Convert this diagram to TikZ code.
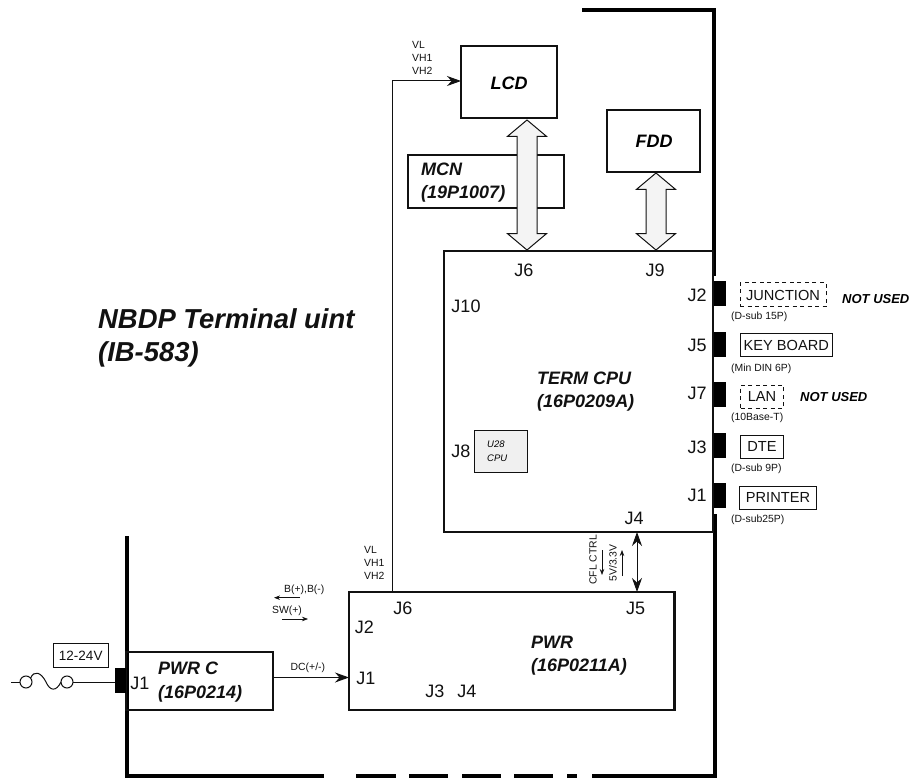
\documentclass[tikz,border=0pt]{standalone}
\usepackage{fontspec}
\setmainfont{Liberation Sans}
\usepackage{xcolor}
\usetikzlibrary{shapes.arrows,arrows.meta,positioning,calc}
\definecolor{fuink}{HTML}{111111}
\definecolor{fubus}{HTML}{F4F4F4}
\definecolor{fuchip}{HTML}{F0F0F0}
\newcommand{\busgap}{\rule{0pt}{19pt}}
\tikzset{
  unitbox/.style={rectangle,draw=fuink,line width=2.6pt,anchor=north west,inner sep=0pt,outer sep=0pt},
  portbox/.style={rectangle,draw=fuink,line width=1pt,anchor=north west,inner sep=0pt,outer sep=0pt,
                  font=\fontsize{14.6}{17}\selectfont,text=fuink},
  nousebox/.style={portbox,dashed,dash pattern=on 4pt off 3.5pt},
  plug/.style={rectangle,fill=black,anchor=north west,minimum width=12pt,minimum height=25pt,inner sep=0pt,outer sep=0pt},
  title/.style={anchor=west,align=left,inner sep=0pt,font=\fontsize{18}{23.5}\selectfont\bfseries\itshape,text=fuink},
  pin/.style={inner sep=0pt,font=\fontsize{18}{20}\selectfont,text=fuink},
  tiny/.style={anchor=west,align=left,inner sep=0pt,font=\fontsize{10.4}{12.8}\selectfont,text=fuink},
  notuse/.style={anchor=west,inner sep=0pt,font=\fontsize{13}{15}\selectfont\bfseries\itshape,text=black},
  bus/.style={double arrow,draw=fuink,line width=1pt,fill=fubus,rotate=90,inner sep=0pt,outer sep=0pt,
              double arrow head extend=9.5pt,double arrow tip angle=100},
  wall/.style={line width=4pt,draw=black},
  sig/.style={-{Stealth[length=14pt,width=10pt]},line width=1pt,draw=fuink},
  sigtwo/.style={{Stealth[length=14pt,width=10pt]}-{Stealth[length=14pt,width=10pt]},line width=1pt,draw=fuink},
  small/.style={-{Stealth[length=6pt,width=4.5pt]},line width=0.7pt,draw=fuink},
}
\begin{document}
\begin{tikzpicture}[x=1pt,y=-1pt]
  \useasboundingbox (0,0) rectangle (911,778);
  % cabinet outline
  \draw[wall] (582,10) -- (714,10) -- (714,276);
  \draw[wall] (715,514) -- (715,776);
  \draw[wall] (127,536) -- (127,776);
  \foreach \xa/\xb in {125/324,356/396,409/448,462/501,514/553,567/577,592/717}
    \draw[wall] (\xa,776) -- (\xb,776);
  % units
  \node[unitbox,minimum width=96pt,minimum height=72pt] (lcd) at (461,46) {};
  \node[unitbox,minimum width=93pt,minimum height=62pt] (fdd) at (607,110) {};
  \node[unitbox,minimum width=156pt,minimum height=53pt] (mcn) at (408,155) {};
  \node[unitbox,minimum width=269pt,minimum height=281pt] (cpu) at (444,251) {};
  \node[unitbox,minimum width=325.5pt,minimum height=118pt] (pwr) at (349,592) {};
  \node[unitbox,minimum width=147pt,minimum height=58pt] (pwrc) at (126,652) {};
  \node[rectangle,draw=fuink,line width=0.7pt,fill=fuchip,anchor=north west,minimum width=53pt,minimum height=42pt,inner sep=0pt,outer sep=0pt] (chip) at (474,430) {};
  % buses
  \node[bus,minimum height=130pt] (lcdbus) at (527,185) {\busgap};
  \node[bus,minimum height=77pt] (fddbus) at (656,211.5) {\busgap};
  % titles
  \node[anchor=center,inner sep=0pt,font=\fontsize{18}{20}\selectfont\bfseries\itshape] (lcdname) at (509,83) {LCD};
  \node[anchor=center,inner sep=0pt,font=\fontsize{18}{20}\selectfont\bfseries\itshape] (fddname) at (654,141) {FDD};
  \node[title] (mcnname) at (421,182.5) {MCN\\(19P1007)};
  \node[title] (cpuname) at (537,391.5) {TERM CPU\\(16P0209A)};
  \node[title] (pwrname) at (531,655.5) {PWR\\(16P0211A)};
  \node[title] (pwrcname) at (158,682) {PWR C\\(16P0214)};
  \node[anchor=west,align=left,inner sep=0pt,font=\fontsize{27.4}{33}\selectfont\bfseries\itshape,text=fuink] (unitname) at (98,337.5) {NBDP Terminal uint\\(IB-583)};
  \node[anchor=west,inner sep=0pt,align=left,font=\fontsize{9.5}{13.5}\selectfont\itshape] (chipname) at (487,451) {U28\\CPU};
  % pins
  \node[pin] (cpuj6) at (524,270) {J6};
  \node[pin] (cpuj9) at (655,270) {J9};
  \node[pin] (cpuj10) at (466,306) {J10};
  \node[pin] (cpuj8) at (461,451) {J8};
  \node[pin] (cpuj4) at (634,518) {J4};
  \node[pin] (cpuj2) at (697,295) {J2};
  \node[pin] (cpuj5) at (697,345) {J5};
  \node[pin] (cpuj7) at (697,393) {J7};
  \node[pin] (cpuj3) at (697,447) {J3};
  \node[pin] (cpuj1) at (697,495) {J1};
  \node[pin] (pwrj6) at (403,608) {J6};
  \node[pin] (pwrj2) at (364.5,627) {J2};
  \node[pin] (pwrj1) at (366,678) {J1};
  \node[pin] (pwrj3) at (435,691) {J3};
  \node[pin] (pwrj4) at (467,691) {J4};
  \node[pin] (pwrj5) at (635.5,608) {J5};
  \node[pin] (pwrcj1) at (140,683) {J1};
  % plugs
  \node[plug] (plugtwo) at (714,281) {};
  \node[plug] (plugfive) at (714,332) {};
  \node[plug] (plugseven) at (714,382) {};
  \node[plug] (plugthree) at (714,433) {};
  \node[plug] (plugone) at (714,483) {};
  \node[plug,minimum width=11pt] (plugpwr) at (115,668) {};
  % external ports
  \node[nousebox,minimum width=86pt,minimum height=24pt] (junction) at (740,283) {JUNCTION};
  \node[portbox,minimum width=91.5pt,minimum height=23pt] (keyboard) at (740.5,333.5) {KEY BOARD};
  \node[nousebox,minimum width=43pt,minimum height=23pt] (lan) at (740.5,385) {LAN};
  \node[portbox,minimum width=43pt,minimum height=23pt] (dte) at (740.5,435) {DTE};
  \node[portbox,minimum width=77pt,minimum height=23pt] (printer) at (739.5,486) {PRINTER};
  \node[tiny] (subtwo) at (731,317) {(D-sub 15P)};
  \node[tiny] (subfive) at (731,368.5) {(Min DIN 6P)};
  \node[tiny] (subseven) at (731,417.5) {(10Base-T)};
  \node[tiny] (subthree) at (731,469) {(D-sub 9P)};
  \node[tiny] (subone) at (731,520) {(D-sub25P)};
  \node[notuse] (unusedtwo) at (842,299) {NOT USED};
  \node[notuse] (unusedseven) at (800,397) {NOT USED};
  % signals
  \node[tiny] (lcdsig) at (412,58) {VL\\VH1\\VH2};
  \node[tiny] (pwrsig) at (364,563) {VL\\VH1\\VH2};
  \node[tiny] (battsig) at (284,590) {B(+),B(-)};
  \node[tiny] (swsig) at (272,611) {SW(+)};
  \node[tiny] (dcsig) at (290.5,668) {DC(+/-)};
  \node[tiny,anchor=center,rotate=90] (cflsig) at (593,560) {CFL CTRL};
  \node[tiny,anchor=center,rotate=90] (fivesig) at (613,563) {5V/3.3V};
  \coordinate (lcdturn) at (392,81);
  \coordinate (dcline) at (0,677.5);
  \coordinate (cpupwr) at (637,0);
  \draw[sig] (lcdturn |- pwr.north) -- (lcdturn) -- (lcd.west |- lcdturn);
  \draw[sig] (pwrc.east |- dcline) -- (pwr.west |- dcline);
  \draw[sigtwo] (cpupwr |- cpu.south) -- (cpupwr |- pwr.north);
  \coordinate (battr) at (300,597.7);
  \coordinate (battl) at (274,597.7);
  \coordinate (swl) at (282,619);
  \coordinate (swr) at (308,619);
  \coordinate (cfla) at (602,550);
  \coordinate (cflb) at (602,575);
  \coordinate (fivea) at (622,576);
  \coordinate (fiveb) at (622,550);
  \draw[small] (battr) -- (battl);
  \draw[small] (swl) -- (swr);
  \draw[small] (cfla) -- (cflb);
  \draw[small] (fivea) -- (fiveb);
  % supply and fuse
  \node[portbox,line width=0.9pt,minimum width=54.5pt,minimum height=23.5pt,font=\fontsize{13.5}{15}\selectfont] (supply) at (53.5,643.7) {12-24V};
  \node[circle,draw=fuink,line width=1pt,minimum size=12pt,inner sep=0pt,outer sep=0pt] (fusea) at (26,682) {};
  \node[circle,draw=fuink,line width=1pt,minimum size=12pt,inner sep=0pt,outer sep=0pt] (fuseb) at (67,682) {};
  \coordinate (mains) at (11,682);
  \draw[line width=1pt,draw=fuink] (mains) -- (fusea);
  \draw[line width=1pt,draw=fuink] (fuseb) -- (plugpwr.west |- fuseb);
  \draw[line width=1pt,draw=fuink] (fusea.40) .. controls (34,670) and (41,672) .. (46,682)
    .. controls (50,691) and (56,692) .. (fuseb.west);
\end{tikzpicture}
\end{document}
